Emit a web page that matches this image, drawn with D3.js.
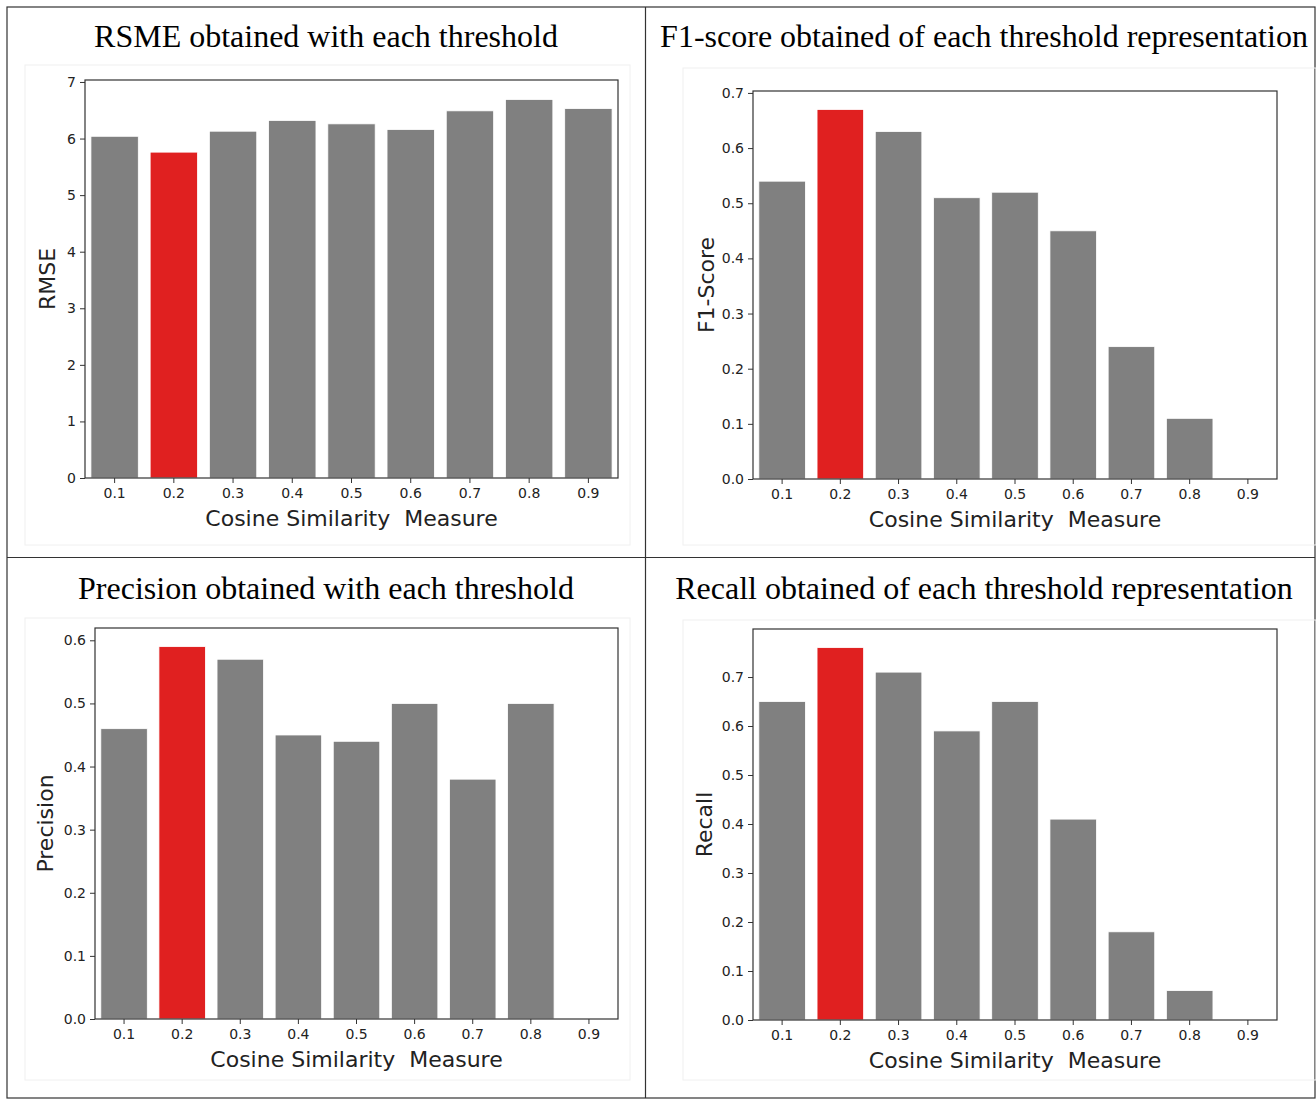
<!DOCTYPE html>
<html><head><meta charset="utf-8">
<script src="https://cdn.jsdelivr.net/npm/d3@7"></script>
<style>body{margin:0;background:#fff}svg text{white-space:pre}</style>
</head><body>
<svg id="c" width="1316" height="1099"></svg>
<script>
const categories = ["0.1","0.2","0.3","0.4","0.5","0.6","0.7","0.8","0.9"];
const rmseValues = [6.04, 5.76, 6.13, 6.32, 6.26, 6.16, 6.49, 6.69, 6.53];
const f1Values = [0.54, 0.67, 0.63, 0.51, 0.52, 0.45, 0.24, 0.11, 0.0];
const precisionValues = [0.46, 0.59, 0.57, 0.45, 0.44, 0.50, 0.38, 0.50, 0.0];
const recallValues = [0.65, 0.76, 0.71, 0.59, 0.65, 0.41, 0.18, 0.06, 0.0];
const highlight = "0.2";
const rmseTicks = [0,1,2,3,4,5,6,7];
const f1Ticks = [0,0.1,0.2,0.3,0.4,0.5,0.6,0.7];
const precisionTicks = [0,0.1,0.2,0.3,0.4,0.5,0.6];
const recallTicks = [0,0.1,0.2,0.3,0.4,0.5,0.6,0.7];
const titles = ["RSME obtained with each threshold","F1-score obtained of each threshold representation","Precision obtained with each threshold","Recall obtained of each threshold representation"];
const yLabels = ["RMSE","F1-Score","Precision","Recall"];
const xLabel = "Cosine Similarity  Measure";

const svg = d3.select("#c");
// table grid
const g0 = svg.append("g");
g0.append("rect").attr("x",7).attr("y",7).attr("width",1308).attr("height",1091).attr("fill","none").attr("stroke","#333").attr("stroke-width",1.2);
g0.append("line").attr("x1",645.5).attr("x2",645.5).attr("y1",7).attr("y2",1098).attr("stroke","#333").attr("stroke-width",1.2);
g0.append("line").attr("x1",7).attr("x2",1315).attr("y1",557.5).attr("y2",557.5).attr("stroke","#333").attr("stroke-width",1.2);

const panels = [
  {title:titles[0], tx:326, ty:47, img:[25,65,630,545], vals:rmseValues, ticks:rmseTicks, fmt:d3.format("d"), ymax:7.035, L:85, R:618, T:80, B:478, ylx:47, xly:526},
  {title:titles[1], tx:984, ty:47, img:[683,68,1316,545], vals:f1Values, ticks:f1Ticks, fmt:d3.format(".1f"), ymax:0.7035, L:753, R:1277, T:91, B:479, ylx:706, xly:527},
  {title:titles[2], tx:326, ty:599, img:[25,618,630,1080], vals:precisionValues, ticks:precisionTicks, fmt:d3.format(".1f"), ymax:0.6195, L:95, R:618, T:628, B:1019, ylx:45, xly:1067},
  {title:titles[3], tx:984, ty:599, img:[683,620,1316,1080], vals:recallValues, ticks:recallTicks, fmt:d3.format(".1f"), ymax:0.798, L:753, R:1277, T:629, B:1020, ylx:704, xly:1068}
];

panels.forEach((p,i)=>{
  const g = svg.append("g");
  g.append("rect").attr("x",p.img[0]).attr("y",p.img[1]).attr("width",p.img[2]-p.img[0]).attr("height",p.img[3]-p.img[1])
    .attr("fill","none").attr("stroke","#f0f0f0");
  g.append("text").attr("x",p.tx).attr("y",p.ty).attr("text-anchor","middle")
    .attr("font-family","Liberation Serif, Times New Roman, serif").attr("font-size",32).attr("fill","#000").text(p.title);
  const x = d3.scaleBand().domain(categories).range([p.L,p.R]).paddingInner(0.2).paddingOuter(0.1);
  const y = d3.scaleLinear().domain([0,p.ymax]).range([p.B,p.T]);
  g.selectAll("rect.bar").data(categories).enter().append("rect").attr("class","bar")
    .attr("x",d=>x(d)).attr("width",x.bandwidth())
    .attr("y",(d,j)=>y(p.vals[j])).attr("height",(d,j)=>y(0)-y(p.vals[j]))
    .attr("fill",d=>d===highlight?"#e02020":"#808080")
    .attr("stroke","#fff").attr("stroke-width",0.8);
  g.append("rect").attr("x",p.L).attr("y",p.T).attr("width",p.R-p.L).attr("height",p.B-p.T)
    .attr("fill","none").attr("stroke","#333").attr("stroke-width",1.2);
  const ya = d3.axisLeft(y).tickValues(p.ticks).tickFormat(p.fmt).tickSize(5).tickPadding(4);
  const yg = g.append("g").attr("transform",`translate(${p.L},0)`).call(ya);
  yg.select(".domain").remove();
  const xa = d3.axisBottom(x).tickSize(5).tickPadding(5);
  const xg = g.append("g").attr("transform",`translate(0,${p.B})`).call(xa);
  xg.select(".domain").remove();
  [yg,xg].forEach(a=>{
    a.selectAll("text").attr("font-family","DejaVu Sans, sans-serif").attr("font-size",14).attr("fill","#222");
    a.selectAll("line").attr("stroke","#333");
  });
  g.append("text").attr("transform",`translate(${p.ylx},${(p.T+p.B)/2}) rotate(-90)`).attr("text-anchor","middle")
    .attr("dy","0.35em").attr("font-family","DejaVu Sans, sans-serif").attr("font-size",22).attr("fill","#222").text(yLabels[i]);
  g.append("text").attr("x",(p.L+p.R)/2).attr("y",p.xly).attr("text-anchor","middle")
    .attr("font-family","DejaVu Sans, sans-serif").attr("font-size",22).attr("fill","#222").text(xLabel);
});
</script>
</body></html>
